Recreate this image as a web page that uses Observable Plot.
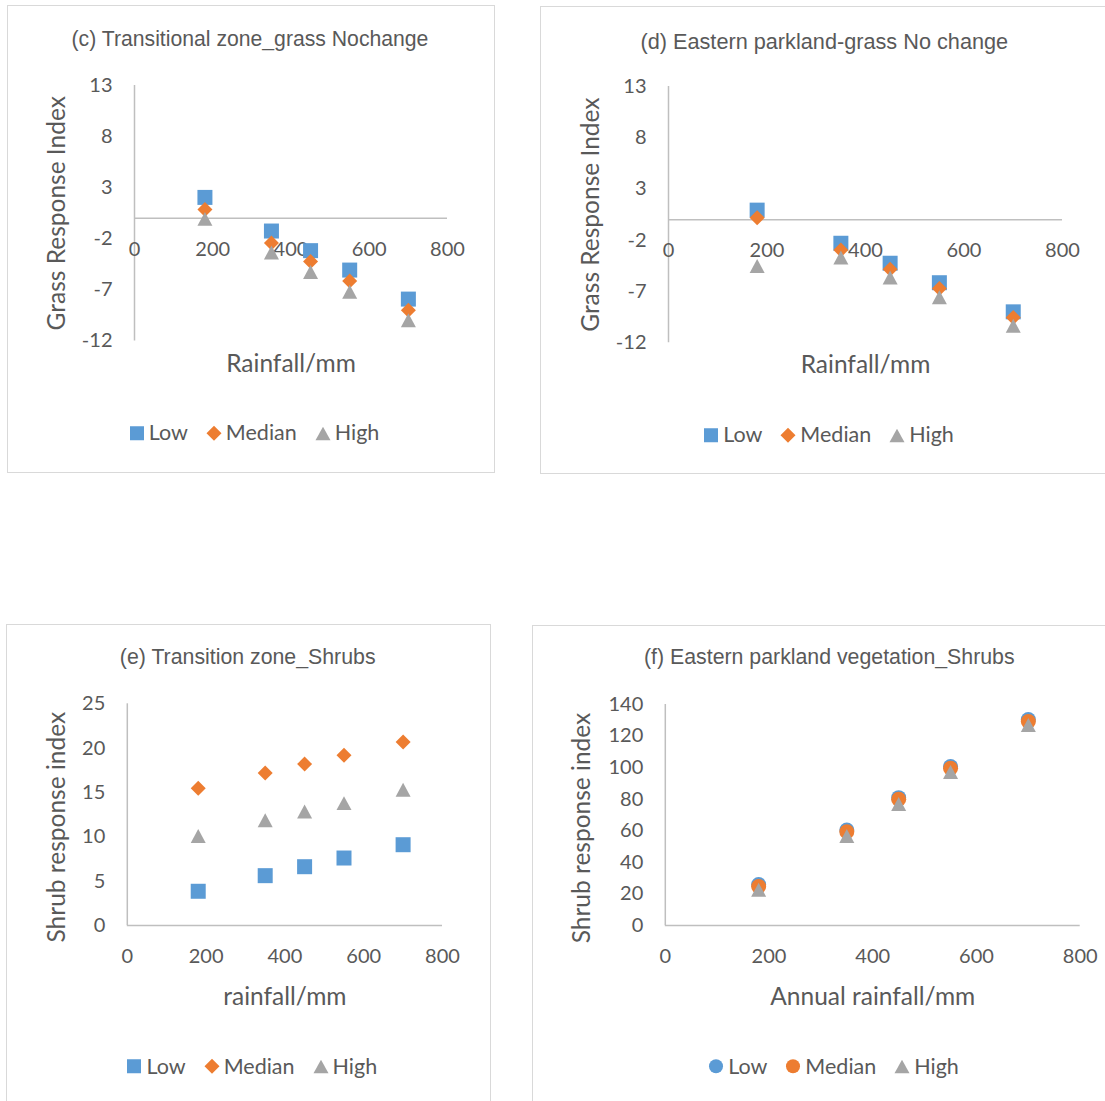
<!DOCTYPE html>
<html><head><meta charset="utf-8">
<script src="https://cdn.jsdelivr.net/npm/d3@7"></script>
<script src="https://cdn.jsdelivr.net/npm/@observablehq/plot@0.6"></script>
<style>
html,body{margin:0;padding:0;background:#fff;}
#page{position:relative;width:1105px;height:1101px;overflow:hidden;background:#fff;}
.box{position:absolute;border:1.5px solid #d9d9d9;box-sizing:border-box;}
.title{position:absolute;width:1000px;text-align:center;font-family:"Liberation Sans",Arial,sans-serif;color:#595959;line-height:1;transform:translateY(-50%);white-space:nowrap;}
.legend{position:absolute;display:flex;align-items:center;justify-content:center;width:1000px;font-family:Lato,sans-serif;font-size:21.5px;color:#595959;transform:translateY(-50%);line-height:1;}
.legend .item{display:flex;align-items:center;margin:0 9px;}
.legend svg{margin-right:4px;display:block;}
.plot{position:absolute;}
</style></head><body><div id="page"></div>
<script>
// ---------- data ----------
const rainfall = [180, 350, 450, 550, 700];
const xTicks = [0, 200, 400, 600, 800];
const seriesNames = ["Low", "Median", "High"];
const seriesColors = ["#5B9BD5", "#ED7D31", "#A5A5A5"];

const cTitle = "(c) Transitional zone_grass Nochange";
const cLow = [2.05, -1.24, -3.16, -5.06, -7.9];
const cMedian = [0.87, -2.42, -4.23, -6.12, -9.0];
const cHigh = [-0.05, -3.34, -5.25, -7.18, -9.97];
const cYTicks = [-12, -7, -2, 3, 8, 13];

const dTitle = "(d) Eastern parkland-grass No change";
const dLow = [0.94, -2.29, -4.24, -6.14, -8.98];
const dMedian = [0.2, -2.95, -4.83, -6.7, -9.53];
const dHigh = [-4.5, -3.68, -5.63, -7.55, -10.34];
const dYTicks = [-12, -7, -2, 3, 8, 13];

const eTitle = "(e) Transition zone_Shrubs";
const eLow = [3.86, 5.62, 6.63, 7.61, 9.11];
const eMedian = [15.47, 17.2, 18.2, 19.2, 20.7];
const eHigh = [10.1, 11.86, 12.85, 13.8, 15.3];
const eYTicks = [0, 5, 10, 15, 20, 25];

const fTitle = "(f) Eastern parkland vegetation_Shrubs";
const fLow = [26, 60.5, 81, 100.7, 130.5];
const fMedian = [24.7, 59.4, 80, 99.6, 129.2];
const fHigh = [22.7, 56.7, 77, 97.3, 127];
const fYTicks = [0, 20, 40, 60, 80, 100, 120, 140];

// ---------- symbols ----------
const hs = s => Math.sqrt(s / Math.PI);
const symSquare = {draw(c, s){const h = hs(s); c.moveTo(-h,-h); c.lineTo(h,-h); c.lineTo(h,h); c.lineTo(-h,h); c.closePath();}};
const symDiamond = {draw(c, s){const h = hs(s); c.moveTo(0,-h); c.lineTo(h,0); c.lineTo(0,h); c.lineTo(-h,0); c.closePath();}};
const symTriangle = {draw(c, s){const h = hs(s); const v = h*0.93; c.moveTo(0,-v); c.lineTo(h,v); c.lineTo(-h,v); c.closePath();}};
const symCircle = {draw(c, s){const h = hs(s); c.moveTo(h,0); c.arc(0,0,h,0,2*Math.PI); c.closePath();}};

const page = document.getElementById("page");
const AXIS = "#bfbfbf";
const TXT = "#595959";
const TICK_FS = 20;
const LABEL_FS = 24.5;

function legendSwatch(kind, color){
  const ns = "http://www.w3.org/2000/svg";
  const svg = document.createElementNS(ns, "svg");
  svg.setAttribute("width", 16); svg.setAttribute("height", 16);
  let el;
  if (kind === "square") { el = document.createElementNS(ns, "rect"); el.setAttribute("x",1); el.setAttribute("y",1); el.setAttribute("width",14); el.setAttribute("height",14); }
  else if (kind === "diamond") { el = document.createElementNS(ns, "path"); el.setAttribute("d","M8,0.5L15.5,8L8,15.5L0.5,8Z"); }
  else if (kind === "triangle") { el = document.createElementNS(ns, "path"); el.setAttribute("d","M8,1.5L15.5,15L0.5,15Z"); }
  else { el = document.createElementNS(ns, "circle"); el.setAttribute("cx",8); el.setAttribute("cy",8); el.setAttribute("r",7); }
  el.setAttribute("fill", color);
  svg.appendChild(el);
  return svg;
}

function panel(cfg){
  const {box, area, yDomain, yTicks, series, symbols, kinds, xLabel, yLabel, title, titleSize, titlePos, legendPos, yLabelDx, yLabelDy, xLabelDy} = cfg;
  const b = document.createElement("div");
  b.className = "box";
  Object.assign(b.style, {left: box.x + "px", top: box.y + "px", width: box.w + "px", height: box.h + "px"});
  page.appendChild(b);

  const data = [];
  series.forEach((vals, si) => vals.forEach((v, i) => data.push({x: rainfall[i], y: v, s: si})));

  const marks = [
    Plot.ruleY([0], {x1: 0, x2: 800, stroke: AXIS, strokeWidth: 1.5}),
    Plot.ruleX([0], {y1: yDomain[0], y2: yDomain[1], stroke: AXIS, strokeWidth: 1.5}),
    Plot.axisY({ticks: yTicks, tickSize: 0, tickPadding: 22, tickFormat: d => String(d), label: null, fontSize: TICK_FS}),
    Plot.text(xTicks, {x: d => d, y: 0, dy: 31, text: d => String(d), fontSize: TICK_FS, fill: TXT}),
    Plot.text([xLabel], {frameAnchor: "bottom", dy: xLabelDy, text: d => d, textAnchor: "middle", lineAnchor: "middle", fontSize: LABEL_FS, fill: TXT}),
    Plot.text([yLabel], {frameAnchor: "left", dx: yLabelDx, dy: yLabelDy, rotate: -90, text: d => d, textAnchor: "middle", lineAnchor: "middle", fontSize: LABEL_FS, fill: TXT})
  ];
  seriesNames.forEach((n, si) => {
    marks.push(Plot.dot(data.filter(d => d.s === si), {x: "x", y: "y", symbol: symbols[si], r: 7.5, fill: seriesColors[si], stroke: "none"}));
  });

  const svg = Plot.plot({
    width: box.w, height: box.h,
    marginLeft: area.x0 - box.x, marginRight: box.x + box.w - area.x1,
    marginTop: area.y0 - box.y, marginBottom: box.y + box.h - area.y1,
    x: {domain: [0, 800], axis: null},
    y: {domain: yDomain},
    style: {fontFamily: "Lato, sans-serif", color: TXT, background: "transparent", overflow: "visible"},
    marks
  });
  svg.classList.add("plot");
  svg.style.left = box.x + "px"; svg.style.top = box.y + "px";
  page.appendChild(svg);

  const t = document.createElement("div");
  t.className = "title"; t.textContent = title;
  t.style.fontSize = titleSize + "px";
  t.style.left = (titlePos[0] - 500) + "px"; t.style.top = titlePos[1] + "px";
  page.appendChild(t);

  const lg = document.createElement("div");
  lg.className = "legend";
  lg.style.left = (legendPos[0] - 500) + "px"; lg.style.top = legendPos[1] + "px";
  seriesNames.forEach((n, si) => {
    const it = document.createElement("div"); it.className = "item";
    it.appendChild(legendSwatch(kinds[si], seriesColors[si]));
    const sp = document.createElement("span"); sp.textContent = n; it.appendChild(sp);
    lg.appendChild(it);
  });
  page.appendChild(lg);
}

const mk = [symSquare, symDiamond, symTriangle];
const mkKinds = ["square", "diamond", "triangle"];

panel({box: {x: 7, y: 5, w: 488, h: 468}, area: {x0: 134, x1: 447, y0: 85, y1: 340.5},
  yDomain: [-12, 13], yTicks: cYTicks, series: [cLow, cMedian, cHigh], symbols: mk, kinds: mkKinds,
  xLabel: "Rainfall/mm", yLabel: "Grass Response Index", title: cTitle, titleSize: 21.2,
  titlePos: [250, 39.3], legendPos: [254, 433.3], yLabelDx: -77.3, yLabelDy: 0, xLabelDy: 22.8});

panel({box: {x: 540, y: 6, w: 580, h: 468}, area: {x0: 668, x1: 1062, y0: 86, y1: 342.3},
  yDomain: [-12, 13], yTicks: dYTicks, series: [dLow, dMedian, dHigh], symbols: mk, kinds: mkKinds,
  xLabel: "Rainfall/mm", yLabel: "Grass Response Index", title: dTitle, titleSize: 21.7,
  titlePos: [824.3, 41.7], legendPos: [828.5, 435], yLabelDx: -77.5, yLabelDy: 0, xLabelDy: 22.7});

panel({box: {x: 6, y: 624, w: 485, h: 520}, area: {x0: 126.8, x1: 442, y0: 703.3, y1: 925},
  yDomain: [0, 25], yTicks: eYTicks, series: [eLow, eMedian, eHigh], symbols: mk, kinds: mkKinds,
  xLabel: "rainfall/mm", yLabel: "Shrub response index", title: eTitle, titleSize: 21.3,
  titlePos: [247.7, 658.3], legendPos: [251.8, 1066.7], yLabelDx: -70.4, yLabelDy: 12.5, xLabelDy: 71.7});

panel({box: {x: 532, y: 625, w: 600, h: 520}, area: {x0: 664.8, x1: 1079.7, y0: 704, y1: 925},
  yDomain: [0, 140], yTicks: fYTicks, series: [fLow, fMedian, fHigh], symbols: [symCircle, symCircle, symTriangle], kinds: ["circle", "circle", "triangle"],
  xLabel: "Annual rainfall/mm", yLabel: "Shrub response index", title: fTitle, titleSize: 21.3,
  titlePos: [829.3, 658.3], legendPos: [833.5, 1066.7], yLabelDx: -83.2, yLabelDy: 13, xLabelDy: 71.7});
</script>
</body></html>
